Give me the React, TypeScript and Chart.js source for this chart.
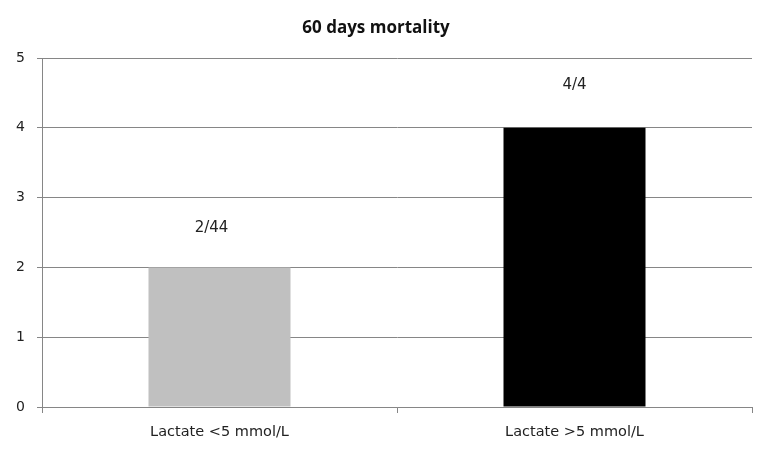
import React, { useEffect, useRef } from "react";
import { Chart, registerables } from "chart.js";

Chart.register(...registerables);

const categories = ["Lactate <5 mmol/L", "Lactate >5 mmol/L"];
const deaths = [2, 4];
const barLabels = ["2/44", "4/4"];
const barColors = ["#c0c0c0", "#000000"];
const yTicks = [0, 1, 2, 3, 4, 5];
const titleText = "60 days mortality";

const labelPlugin = {
  id: "barLabels",
  afterDatasetsDraw(chart: any) {
    const ctx = chart.ctx;
    const meta = chart.getDatasetMeta(0);
    ctx.save();
    ctx.font = "15px 'DejaVu Sans'";
    ctx.fillStyle = "#222";
    ctx.textAlign = "center";
    ctx.textBaseline = "middle";
    meta.data.forEach((bar: any, i: number) => {
      ctx.fillText(barLabels[i], bar.x - (i === 0 ? 8 : 0), bar.y - (i === 0 ? 39 : 43));
    });
    ctx.restore();
  },
};

export default function App() {
  const ref = useRef<HTMLCanvasElement>(null);
  useEffect(() => {
    const chart = new Chart(ref.current!, {
      type: "bar",
      data: {
        labels: categories,
        datasets: [
          {
            data: deaths,
            backgroundColor: barColors,
            barPercentage: 0.4,
            categoryPercentage: 1,
          },
        ],
      },
      options: {
        animation: false,
        responsive: false,
        devicePixelRatio: 1,
        layout: { padding: { left: 0, right: 19, top: 0, bottom: 0 } },
        plugins: {
          legend: { display: false },
          tooltip: { enabled: false },
          title: {
            display: true,
            text: titleText,
            color: "#111",
            font: { family: "'Open Sans'", size: 17, weight: "bold", lineHeight: 1.2 },
            padding: { top: 18, bottom: 19.6 },
          },
        },
        scales: {
          x: {
            grid: {
              display: true,
              drawOnChartArea: false,
              drawTicks: true,
              tickLength: 6,
              color: "#868686",
              offset: true,
            },
            border: { display: true, color: "#868686", width: 1 },
            ticks: {
              color: "#222",
              font: { family: "'DejaVu Sans'", size: 14.5 },
              padding: 11,
            },
            afterFit(scale: any) {
              scale.height = 47;
            },
          },
          y: {
            min: 0,
            max: 5,
            afterBuildTicks(scale: any) {
              scale.ticks = yTicks.map((v) => ({ value: v }));
            },
            grid: {
              color: "#868686",
              lineWidth: 1,
              drawTicks: true,
              tickLength: 5,
            },
            border: { display: true, color: "#868686", width: 1 },
            ticks: {
              color: "#222",
              font: { family: "'DejaVu Sans'", size: 14 },
              padding: 12,
            },
            afterFit(scale: any) {
              scale.width = 42;
            },
          },
        },
      },
      plugins: [labelPlugin],
    });
    return () => chart.destroy();
  }, []);
  return (
    <div style={{ position: "absolute", left: 0, top: 0, width: 771, height: 454, background: "#fff" }}>
      <canvas ref={ref} width={771} height={454} />
    </div>
  );
}
